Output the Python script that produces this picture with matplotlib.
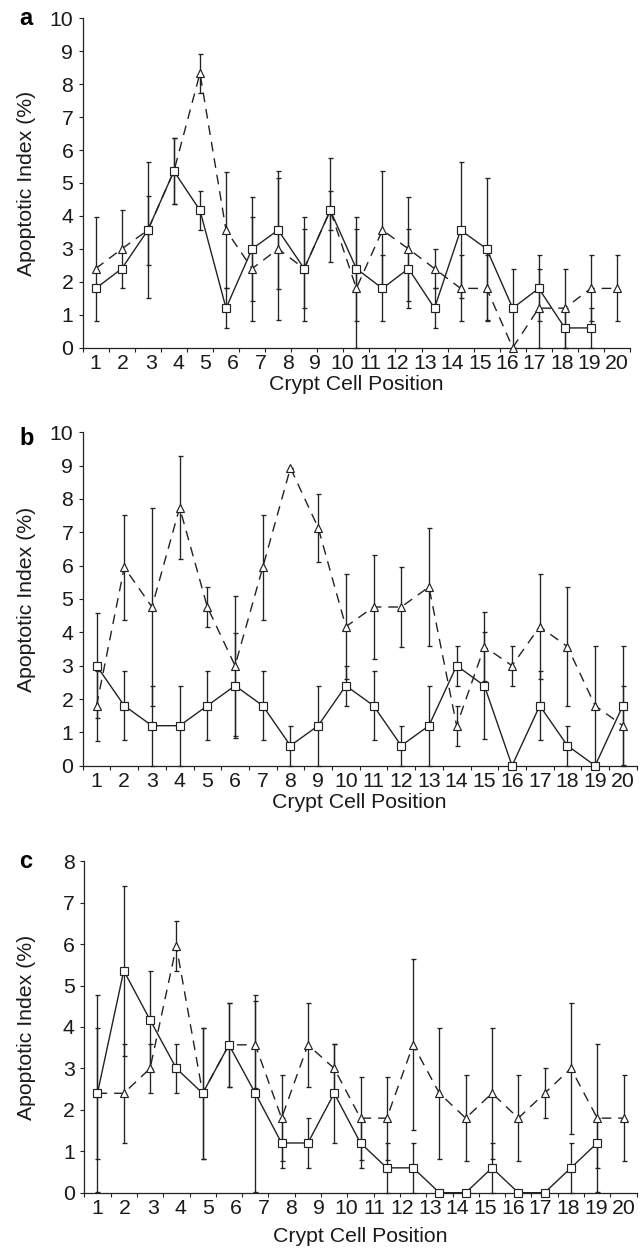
import matplotlib
matplotlib.use("Agg")
import matplotlib.pyplot as plt

plt.rcParams['font.family'] = ['Liberation Sans', 'DejaVu Sans']

# values (apoptotic index, %), one entry per crypt cell position
cell_labels = [str(i) for i in range(1, 21)]

a_sq = [1.8, 2.4, 3.57, 5.36, 4.17, 1.2, 3.0, 3.57, 2.4, 4.17, 2.4, 1.8, 2.4, 1.2, 3.57, 3.0, 1.2, 1.8, 0.6, 0.6]
a_sq_err = [0, 0, 1.05, 1.0, 0.6, 0.6, 1.58, 1.78, 1.58, 0.6, 1.58, 1.0, 1.2, 0.6, 2.06, 2.15, 1.2, 1.0, 0.6, 0.6]
a_tri = [2.4, 3.0, 3.57, 5.36, 8.33, 3.57, 2.4, 3.0, 2.4, 4.17, 1.8, 3.57, 3.0, 2.4, 1.8, 1.8, 0, 1.2, 1.2, 1.8, 1.8]
a_tri_err = [1.58, 1.18, 2.06, 1.0, 0.6, 1.77, 1.58, 2.15, 1.2, 1.58, 1.8, 1.78, 1.58, 0.6, 1.0, 1.0, 0, 1.2, 1.2, 1.0, 1.0]

b_sq = [3.0, 1.8, 1.2, 1.2, 1.8, 2.4, 1.8, 0.6, 1.2, 2.4, 1.8, 0.6, 1.2, 3.0, 2.4, 0, 1.8, 0.6, 0, 1.8]
b_sq_err = [1.58, 1.03, 1.2, 1.2, 1.03, 1.58, 1.03, 0.6, 1.2, 0.6, 1.03, 0.6, 1.2, 0.6, 1.6, 0, 1.03, 0.6, 0, 1.78]
b_tri = [1.8, 5.95, 4.76, 7.74, 4.76, 3.0, 5.95, 8.93, 7.14, 4.17, 4.76, 4.76, 5.36, 1.2, 3.57, 3.0, 4.17, 3.57, 1.8, 1.2]
b_tri_err = [1.05, 1.58, 2.97, 1.55, 0.6, 2.1, 1.58, 0, 1.02, 1.58, 1.56, 1.19, 1.78, 0.6, 1.03, 0.6, 1.58, 1.78, 1.8, 1.2]

c_sq = [2.4, 5.36, 4.17, 3.0, 2.4, 3.57, 2.4, 1.2, 1.2, 2.4, 1.2, 0.6, 0.6, 0, 0, 0.6, 0, 0, 0.6, 1.2]
c_sq_err = [2.38, 2.05, 1.18, 0.6, 1.58, 1.02, 2.38, 0.6, 0.6, 1.2, 0.6, 0.6, 0.6, 0, 0, 0.6, 0, 0, 0.6, 0.6]
c_tri = [2.4, 2.4, 3.0, 5.95, 2.4, 3.57, 3.57, 1.8, 3.57, 3.0, 1.8, 1.8, 3.57, 2.4, 1.8, 2.4, 1.8, 2.4, 3.0, 1.8, 1.8]
c_tri_err = [1.58, 1.2, 0.6, 0.6, 1.58, 1.02, 1.05, 1.03, 1.02, 0.6, 1.0, 1.0, 2.06, 1.58, 1.03, 1.58, 1.03, 0.6, 1.58, 1.78, 1.03]

W, H = 643, 1255
ink = '#222222'
fs = 15.3

fig = plt.figure(figsize=(W / 100, H / 100), dpi=100)


def fx(px):
    return px / W


def fy(py):
    return 1 - py / H


def panel(box, letter, letter_base, xlab_y, sq, sq_err, tri, tri_err, ymax, ncat):
    left, top, right, bottom = box
    ax = fig.add_axes([fx(left), fy(bottom), (right - left) / W, (bottom - top) / H])

    xs_sq = [k + 0.5 for k in range(len(sq))]
    xs_tri = [k + 0.5 for k in range(len(tri))]

    # error bars first, markers sit on top
    for xs, ys, es in [(xs_tri, tri, tri_err), (xs_sq, sq, sq_err)]:
        ax.errorbar(xs, ys, yerr=es, fmt='none', ecolor=ink, elinewidth=0.95,
                    capsize=1.8, capthick=0.95, zorder=1, clip_on=False)

    ax.plot(xs_tri, tri, ls=(0, (7, 5)), color=ink, lw=1.0, marker='^', ms=6,
            mfc='white', mec=ink, mew=0.85, zorder=3, clip_on=False)
    ax.plot(xs_sq, sq, ls='-', color=ink, lw=1.0, marker='s', ms=5.9,
            mfc='white', mec=ink, mew=0.85, zorder=4, clip_on=False)

    ax.set_xlim(0, ncat)
    ax.set_ylim(0, ymax)
    for s in ['top', 'right']:
        ax.spines[s].set_visible(False)
    for s in ['left', 'bottom']:
        ax.spines[s].set_linewidth(0.9)
        ax.spines[s].set_color(ink)

    ax.set_yticks(range(ymax + 1))
    ax.set_xticks(range(ncat + 1))
    ax.set_xticklabels([])
    # labels 1..20 spread evenly from the first to the last cell
    lab_x = [0.5 + i * (ncat - 1) / 19 for i in range(20)]
    ax.set_xticks(lab_x, cell_labels, minor=True)
    ax.tick_params(axis='x', which='minor', length=0, pad=4.2, labelsize=fs,
                   labelcolor='#1a1a1a')
    ax.tick_params(axis='x', which='major', length=2.6, width=0.8, color=ink)
    ax.tick_params(axis='y', length=2.6, width=0.8, color=ink, pad=4.2, labelsize=fs,
                   labelcolor='#1a1a1a')

    fig.text(fx((left + right) / 2), fy(xlab_y), 'Crypt Cell Position',
             ha='center', va='center', fontsize=fs, color='#1a1a1a')
    fig.text(fx(27), fy((top + bottom) / 2), 'Apoptotic Index (%)',
             ha='center', va='center', rotation=90, fontsize=fs, color='#1a1a1a')
    fig.text(fx(19), fy(letter_base), letter, ha='left', va='baseline',
             fontsize=17, fontweight='bold')
    return ax


panel((82.7, 18.3, 630, 347.7), 'a', 25, 384, a_sq, a_sq_err, a_tri, a_tri_err, 10, 21)
panel((82.7, 432.3, 636.7, 765.7), 'b', 445, 803, b_sq, b_sq_err, b_tri, b_tri_err, 10, 20)
panel((84.3, 861.3, 636.7, 1192.7), 'c', 868, 1236, c_sq, c_sq_err, c_tri, c_tri_err, 8, 21)

fig.savefig('out.png', dpi=100)
